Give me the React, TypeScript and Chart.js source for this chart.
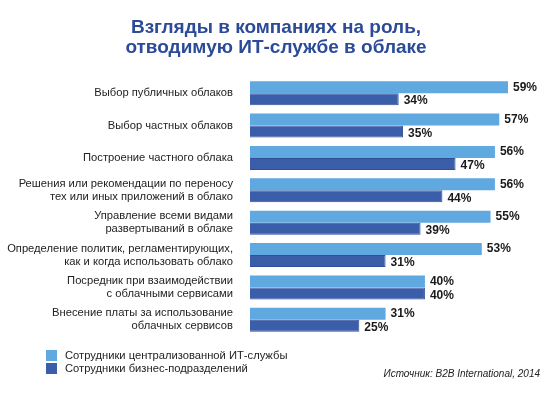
import React, { useEffect, useRef } from 'react';
import { Chart, registerables } from 'chart.js';

Chart.register(...registerables);

const categories: (string | string[])[] = [
  'Выбор публичных облаков',
  'Выбор частных облаков',
  'Построение частного облака',
  ['Решения или рекомендации по переносу', 'тех или иных приложений в облако'],
  ['Управление всеми видами', 'развертываний в облаке'],
  ['Определение политик, регламентирующих,', 'как и когда использовать облако'],
  ['Посредник при взаимодействии', 'с облачными сервисами'],
  ['Внесение платы за использование', 'облачных сервисов'],
];

const itStaff = [59, 57, 56, 56, 55, 53, 40, 31];
const businessStaff = [34, 35, 47, 44, 39, 31, 40, 25];

const seriesNames = ['Сотрудники централизованной ИТ-службы', 'Сотрудники бизнес-подразделений'];
const titleLines = ['Взгляды в компаниях на роль,', 'отводимую ИТ-службе в облаке'];
const sourceText = 'Источник: B2B International, 2014';

const LIGHT = '#5fa8e0';
const DARK = '#3a5ea9';
const LABEL_FONT = '"Liberation Sans", Arial, sans-serif';

// draws title, value labels, legend and source line
const decorPlugin = {
  id: 'decor',
  afterDatasetsDraw(chart: any) {
    const ctx = chart.ctx;
    ctx.save();

    // value labels
    ctx.font = 'bold 12px "Liberation Sans", Arial, sans-serif';
    ctx.fillStyle = '#1a1a1a';
    ctx.textAlign = 'left';
    ctx.textBaseline = 'middle';
    chart.data.datasets.forEach((ds: any, di: number) => {
      const meta = chart.getDatasetMeta(di);
      meta.data.forEach((bar: any, i: number) => {
        ctx.fillText(ds.data[i] + '%', bar.x + 5, bar.y + (di === 1 ? 2 : 0));
      });
    });

    // title
    ctx.font = 'bold 19px "Liberation Sans", Arial, sans-serif';
    ctx.fillStyle = '#2b4b98';
    ctx.textAlign = 'center';
    ctx.textBaseline = 'alphabetic';
    titleLines.forEach((line, i) => ctx.fillText(line, 276, 33 + i * 20));

    // legend
    const colors = [LIGHT, DARK];
    ctx.font = '11.2px ' + LABEL_FONT;
    ctx.textAlign = 'left';
    ctx.textBaseline = 'middle';
    seriesNames.forEach((name, i) => {
      const y = 350 + i * 13;
      ctx.fillStyle = colors[i];
      ctx.fillRect(46, y, 11, 11);
      ctx.fillStyle = '#222';
      ctx.fillText(name, 65, y + 6);
    });

    // source
    ctx.font = 'italic 10px "Liberation Sans", Arial, sans-serif';
    ctx.fillStyle = '#222';
    ctx.textAlign = 'right';
    ctx.textBaseline = 'alphabetic';
    ctx.fillText(sourceText, 540, 377);

    ctx.restore();
  },
};

export default function App() {
  const canvasRef = useRef<HTMLCanvasElement>(null);

  useEffect(() => {
    if (!canvasRef.current) return;
    const chart = new Chart(canvasRef.current, {
      type: 'bar',
      data: {
        labels: categories,
        datasets: [
          {
            label: seriesNames[0],
            data: itStaff,
            backgroundColor: LIGHT,
            categoryPercentage: 0.74,
            barPercentage: 1,
          },
          {
            label: seriesNames[1],
            data: businessStaff,
            backgroundColor: DARK,
            borderColor: '#2f4f98',
            borderWidth: 1,
            categoryPercentage: 0.74,
            barPercentage: 1,
          },
        ],
      },
      options: {
        indexAxis: 'y',
        animation: false,
        responsive: false,
        devicePixelRatio: 1,
        layout: { padding: { top: 77, right: 37.6, bottom: 65, left: 0 } },
        plugins: {
          legend: { display: false },
          title: { display: false },
          tooltip: { enabled: false },
        },
        scales: {
          x: { display: false, min: 0, max: 60 },
          y: {
            afterFit(scale: any) {
              scale.width = 250;
            },
            grid: { display: false },
            border: { display: false },
            ticks: {
              color: '#222',
              padding: 9,
              font: { family: LABEL_FONT, size: 11.2, lineHeight: 1.17 },
            },
          },
        },
      },
      plugins: [decorPlugin],
    } as any);
    return () => chart.destroy();
  }, []);

  return (
    <div style={{ position: 'absolute', left: 0, top: 0, width: 550, height: 401, background: '#fff' }}>
      <canvas ref={canvasRef} width={550} height={401} />
    </div>
  );
}
